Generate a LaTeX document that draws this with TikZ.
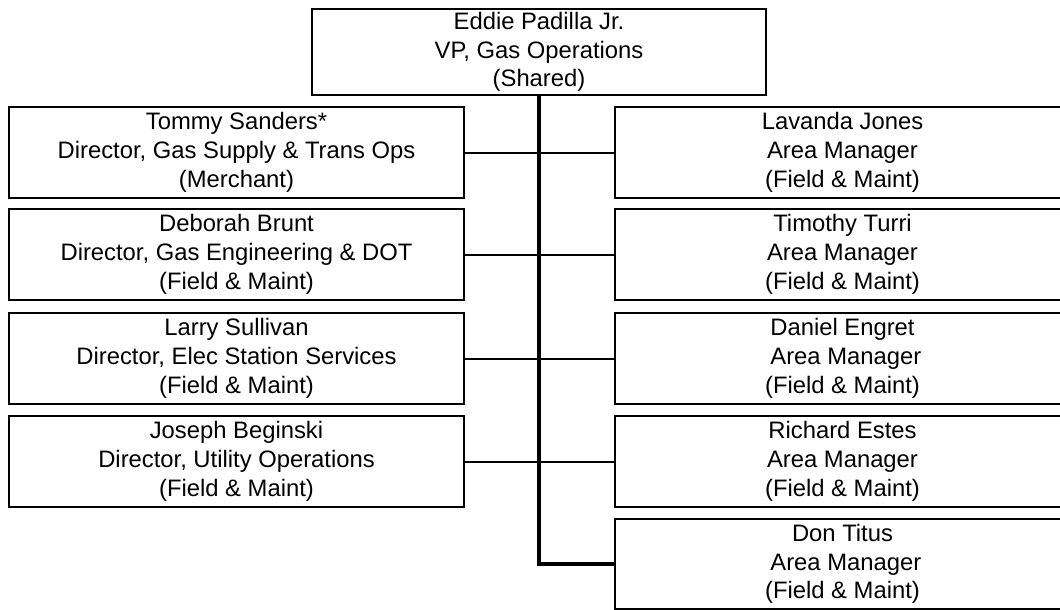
\documentclass[tikz,border=0pt]{standalone}
\usepackage{fontspec}
\setmainfont{Liberation Sans}
\begin{document}
\begin{tikzpicture}[x=1pt,y=-1pt,
  box/.style={draw, line width=2.5pt, minimum width=455pt, minimum height=91pt,
    inner sep=0pt, outer sep=0pt, align=center,
    font=\fontsize{23.8}{28.8}\selectfont},
  link/.style={line width=2pt},
  trunk/.style={line width=3.5pt}]
\useasboundingbox (0,0) rectangle (1060,610);
\clip (0,0) rectangle (1060,610);
\node[box, minimum width=454pt, minimum height=86pt] (top) at (539,52) {Eddie Padilla Jr.\\VP, Gas Operations\\(Shared)};
\node[box] (l1) at (236.5,152.5) {Tommy Sanders*\\Director, Gas Supply \& Trans Ops\\(Merchant)};
\node[box] (l2) at (236.5,254.5) {Deborah Brunt\\Director, Gas Engineering \& DOT\\(Field \& Maint)};
\node[box] (l3) at (236.5,358.5) {Larry Sullivan\\Director, Elec Station Services\\(Field \& Maint)};
\node[box] (l4) at (236.5,461.5) {Joseph Beginski\\Director, Utility Operations\\(Field \& Maint)};
\node[box] (r1) at (842.5,152.5) {Lavanda Jones\\Area Manager\\(Field \& Maint)};
\node[box] (r2) at (842.5,254.5) {Timothy Turri\\Area Manager\\(Field \& Maint)};
\node[box] (r3) at (842.5,358.5) {Daniel Engret\\\hspace*{0.28em}Area Manager\\(Field \& Maint)};
\node[box] (r4) at (842.5,461.5) {Richard Estes\\Area Manager\hspace*{0.28em}\\(Field \& Maint)};
\node[box, minimum height=90pt] (r5) at (842.5,564) {Don Titus\\\hspace*{0.28em}Area Manager\\(Field \& Maint)};
\draw[trunk] (top.south) -- (top.south |- r5.west) -- (r5.west);
\foreach \i in {1,2,3,4} {
  \draw[link] (l\i.east) -- (l\i.east -| top.south) -- (r\i.west);
}
\end{tikzpicture}
\end{document}
